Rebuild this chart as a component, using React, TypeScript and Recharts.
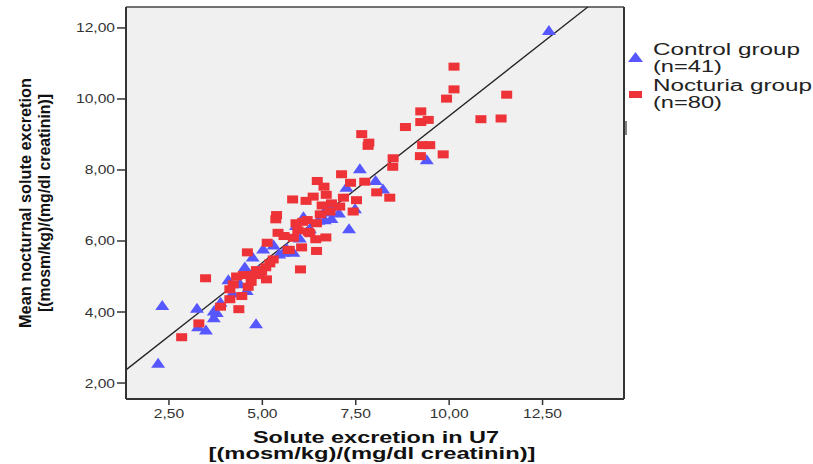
import React from "react";
import {
  ScatterChart,
  Scatter,
  XAxis,
  YAxis,
  CartesianGrid,
  ReferenceLine,
  Label,
} from "recharts";

// values: [solute excretion U7, mean nocturnal solute excretion]
const controlGroup: number[][] = [
  [12.67, 11.94], [2.32, 4.2], [3.25, 4.12], [2.21, 2.57], [3.49, 3.51],
  [3.28, 3.6], [3.7, 4.04], [3.78, 4.0], [3.88, 4.29], [4.09, 4.92],
  [4.83, 3.68], [4.53, 5.28], [4.74, 5.56], [5.02, 5.79], [4.58, 4.62],
  [5.56, 5.7], [5.83, 5.7], [6.67, 6.61], [6.65, 6.83], [7.05, 6.8],
  [7.32, 6.36], [7.48, 6.92], [6.81, 6.97], [7.61, 8.05], [8.03, 7.72],
  [8.23, 7.48], [9.4, 8.3], [7.25, 7.53], [6.27, 6.36], [5.65, 5.8],
  [4.4, 4.81], [4.2, 4.55], [6.0, 6.1], [5.9, 6.45], [6.1, 6.7],
  [6.5, 6.6], [5.3, 5.9], [4.9, 5.2], [3.7, 3.85], [5.45, 5.65],
  [6.85, 6.65],
];

const nocturiaGroup: number[][] = [
  [10.13, 10.91], [10.13, 10.27], [9.93, 10.01], [11.54, 10.12], [10.85, 9.43],
  [11.39, 9.45], [9.24, 9.65], [9.24, 9.35], [9.44, 9.41], [8.83, 9.21],
  [7.66, 9.01], [7.85, 8.77], [7.83, 8.68], [9.29, 8.7], [9.48, 8.7],
  [9.84, 8.44], [9.23, 8.39], [8.5, 8.33], [8.49, 8.09], [7.12, 7.88],
  [7.36, 7.64], [7.74, 7.67], [8.06, 7.37], [8.41, 7.22], [7.17, 7.22],
  [7.52, 7.15], [6.47, 7.69], [6.65, 7.53], [5.81, 7.17], [6.17, 7.13],
  [6.36, 7.25], [6.71, 7.3], [6.85, 7.06], [7.43, 6.83], [5.38, 6.73],
  [5.36, 6.61], [5.9, 6.5], [6.08, 6.54], [6.45, 6.5], [5.42, 6.23],
  [5.58, 6.14], [5.83, 6.09], [6.27, 6.22], [6.43, 6.05], [6.7, 6.1],
  [5.13, 5.95], [5.72, 5.75], [6.05, 5.82], [6.45, 5.72], [4.6, 5.68],
  [5.29, 5.48], [5.2, 5.37], [6.02, 5.2], [4.98, 5.14], [5.11, 4.92],
  [4.84, 5.18], [4.49, 5.04], [4.93, 5.04], [3.48, 4.95], [4.22, 4.78],
  [4.62, 4.71], [4.45, 4.45], [4.13, 4.36], [3.88, 4.15], [4.37, 4.08],
  [3.3, 3.68], [2.84, 3.29], [6.81, 6.83], [6.6, 7.0], [6.23, 6.26],
  [4.13, 4.64], [4.31, 5.0], [4.67, 5.04], [6.2, 6.59], [7.07, 6.97],
  [5.09, 5.26], [5.69, 5.75], [4.7, 4.85], [5.95, 6.3], [6.55, 6.75],
];

const xTicks = [2.5, 5, 7.5, 10, 12.5];
const yTicks = [2, 4, 6, 8, 10, 12];
const xDomain = [1.35, 14.68];
const yDomain = [1.55, 12.59];
const fitLine = [
  { x: 1.35, y: 2.37 },
  { x: 13.71, y: 12.59 },
];

const legendItems = [
  { name: "Control group", n: "(n=41)", shape: "triangle" },
  { name: "Nocturia group", n: "(n=80)", shape: "square" },
];

const BLUE = "#5757FF";
const RED = "#EE3338";
const FONT = "'Liberation Sans', Arial, sans-serif";

const toPoints = (rows: number[][]) => rows.map(([x, y]) => ({ x, y }));

const fmt = (v: number) => v.toFixed(2).replace(".", ",");

const Triangle = (props: any) => {
  const { cx, cy } = props;
  return (
    <polygon
      points={`${cx - 7},${cy + 5} ${cx + 7},${cy + 5} ${cx},${cy - 5}`}
      fill={BLUE}
    />
  );
};

const Square = (props: any) => {
  const { cx, cy } = props;
  return <rect x={cx - 5.5} y={cy - 4} width={11} height={8} fill={RED} />;
};

const tickWidth = (s: string) => {
  let w = 0;
  for (const c of s) w += c === "," ? 0.278 : 0.556;
  return w * 13 * 1.2;
};

const XTick = (props: any) => {
  const { x, y, payload } = props;
  const s = fmt(payload.value);
  return (
    <text
      x={x}
      y={y}
      dy={11}
      textAnchor="middle"
      fontFamily={FONT}
      fontSize={13}
      fill="#333"
      textLength={tickWidth(s)}
      lengthAdjust="spacingAndGlyphs"
    >
      {s}
    </text>
  );
};

const YTick = (props: any) => {
  const { x, y, payload } = props;
  const s = fmt(payload.value);
  return (
    <text
      x={x}
      y={y}
      dy={4.5}
      textAnchor="end"
      fontFamily={FONT}
      fontSize={13}
      fill="#333"
      textLength={tickWidth(s)}
      lengthAdjust="spacingAndGlyphs"
    >
      {s}
    </text>
  );
};

const YTitle = () => (
  <g fontFamily={FONT} fontWeight="bold" fontSize={17} fill="#111">
    <text
      transform="translate(25,203) rotate(-90)"
      textAnchor="middle"
      dy={6}
      textLength={250}
      lengthAdjust="spacingAndGlyphs"
    >
      Mean nocturnal solute excretion
    </text>
    <text
      transform="translate(44,203) rotate(-90)"
      textAnchor="middle"
      dy={6}
      textLength={218}
      lengthAdjust="spacingAndGlyphs"
    >
      [(mosm/kg)/(mg/dl creatinin)]
    </text>
  </g>
);

const XTitle = () => (
  <g fontFamily={FONT} fontWeight="bold" fontSize={16} fill="#111">
    <text
      x={376}
      y={443}
      textAnchor="middle"
      textLength={246}
      lengthAdjust="spacingAndGlyphs"
    >
      Solute excretion in U7
    </text>
    <text
      x={372}
      y={459}
      textAnchor="middle"
      textLength={327}
      lengthAdjust="spacingAndGlyphs"
    >
      [(mosm/kg)/(mg/dl creatinin)]
    </text>
  </g>
);

const ChartLegend = () => (
  <svg
    width={190}
    height={130}
    style={{ position: "absolute", left: 622, top: 35 }}
  >
    <line x1={4} y1={86} x2={4} y2={100} stroke="#555" strokeWidth={1.5} />
    {legendItems.map((item, i) => {
      const top = i * 36;
      return (
        <g key={item.name}>
          {item.shape === "triangle" ? (
            <polygon
              points={`6,${top + 27} 21,${top + 27} 13.5,${top + 17}`}
              fill={BLUE}
            />
          ) : (
            <rect x={7} y={top + 20} width={13} height={7} fill={RED} />
          )}
          <text
            x={31}
            y={top + 20}
            fontFamily={FONT}
            fontSize={16}
            fill="#222"
            textLength={item.shape === "triangle" ? 147 : 159}
            lengthAdjust="spacingAndGlyphs"
          >
            {item.name}
          </text>
          <text
            x={31}
            y={top + 37}
            fontFamily={FONT}
            fontSize={16}
            fill="#222"
            textLength={69}
            lengthAdjust="spacingAndGlyphs"
          >
            {item.n}
          </text>
        </g>
      );
    })}
  </svg>
);

export default function App() {
  return (
    <div
      style={{
        position: "absolute",
        left: 0,
        top: 0,
        width: 813,
        height: 464,
        background: "#fff",
      }}
    >
      <ScatterChart
        width={813}
        height={464}
        margin={{ top: 7, right: 189, bottom: 0, left: 0 }}
      >
        <CartesianGrid horizontal={false} vertical={false} fill="#F0F0F0" />
        <XAxis
          type="number"
          dataKey="x"
          domain={xDomain}
          ticks={xTicks}
          allowDataOverflow
          height={65}
          tick={<XTick />}
          tickSize={6}
          tickMargin={2}
          tickLine={{ stroke: "#333", strokeWidth: 1.5 }}
          axisLine={{ stroke: "#333", strokeWidth: 2 }}
        >
          <Label content={<XTitle />} />
        </XAxis>
        <YAxis
          type="number"
          dataKey="y"
          domain={yDomain}
          ticks={yTicks}
          allowDataOverflow
          width={126}
          tick={<YTick />}
          tickSize={9}
          tickMargin={2}
          tickLine={{ stroke: "#333", strokeWidth: 1.5 }}
          axisLine={{ stroke: "#333", strokeWidth: 2 }}
        >
          <Label content={<YTitle />} />
        </YAxis>
        <ReferenceLine y={yDomain[1]} stroke="#444" strokeWidth={1.5} />
        <ReferenceLine x={xDomain[1]} stroke="#333" strokeWidth={2} />
        <Scatter
          name="Control group"
          data={toPoints(controlGroup)}
          shape={<Triangle />}
          isAnimationActive={false}
        />
        <Scatter
          name="Nocturia group"
          data={toPoints(nocturiaGroup)}
          shape={<Square />}
          isAnimationActive={false}
        />
        <ReferenceLine
          segment={fitLine}
          stroke="#222"
          strokeWidth={1.3}
          ifOverflow="visible"
        />
      </ScatterChart>
      <ChartLegend />
    </div>
  );
}
